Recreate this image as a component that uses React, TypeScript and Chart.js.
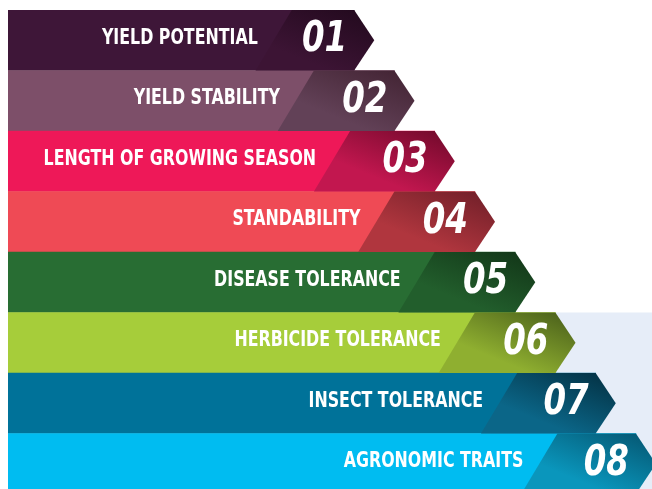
import { useEffect, useRef } from "react";
import { Chart, registerables } from "chart.js";

Chart.register(...registerables);

// ---- data ----
const categories = [
  "YIELD POTENTIAL",
  "YIELD STABILITY",
  "LENGTH OF GROWING SEASON",
  "STANDABILITY",
  "DISEASE TOLERANCE",
  "HERBICIDE TOLERANCE",
  "INSECT TOLERANCE",
  "AGRONOMIC TRAITS",
];
const rankLabels = ["01", "02", "03", "04", "05", "06", "07", "08"];
// where each band ends (before the arrow tip)
const barEnds = [8.6, 9.6, 10.6, 11.6, 12.6, 13.6, 14.6, 15.6];
// where the darker numbered section begins (top edge)
const splitStarts = [7.05, 7.6, 8.5, 9.6, 10.6, 11.6, 12.65, 13.65];

const lightColors = [
  "#3E1638",
  "#7D4F69",
  "#EE1858",
  "#EF4A55",
  "#286D33",
  "#A6CD3A",
  "#007299",
  "#00BCF1",
];
const darkTopColors = [
  "#240A1F",
  "#442535",
  "#760A2D",
  "#74202A",
  "#133819",
  "#4E641C",
  "#043447",
  "#055A76",
];
const darkBottomColors = [
  "#3C1434",
  "#624157",
  "#C2174F",
  "#B0363E",
  "#225E2C",
  "#8FAF30",
  "#0B6688",
  "#0A96BC",
];

const FONT = '"DejaVu Sans Condensed", "DejaVu Sans", sans-serif';

function drawSquashed(ctx: CanvasRenderingContext2D, text: string, x: number, y: number, sx: number) {
  ctx.save();
  ctx.translate(x, y);
  ctx.scale(sx, 1);
  ctx.fillText(text, 0, 0);
  ctx.restore();
}

const shapesPlugin = {
  id: "shapes",
  beforeDatasetsDraw(chart: any) {
    const { ctx, chartArea } = chart;
    const meta = chart.getDatasetMeta(0);
    const xs = chart.scales.x;
    const el = meta.data[5];
    if (!el) return;
    const p = el.getProps(["y", "height"], true);
    const top = p.y - p.height / 2;
    ctx.save();
    ctx.fillStyle = "#E6EDF8";
    const left = xs.getPixelForValue(12);
    ctx.fillRect(left, top, chartArea.right - left + 10, chart.height - top);
    ctx.restore();
  },
  afterDatasetsDraw(chart: any) {
    const { ctx } = chart;
    const meta = chart.getDatasetMeta(0);
    const xs = chart.scales.x;
    const unit = xs.getPixelForValue(1) - xs.getPixelForValue(0);
    const tip = unit * 0.5;
    const slant = unit * 0.9;
    meta.data.forEach((el: any, i: number) => {
      const p = el.getProps(["x", "y", "height"], true);
      const top = p.y - p.height / 2;
      const bottom = p.y + p.height / 2;
      const right = p.x;
      const sx = xs.getPixelForValue(splitStarts[i]);
      ctx.save();
      const g = ctx.createLinearGradient(right, top, right - 25, bottom);
      g.addColorStop(0, darkTopColors[i]);
      g.addColorStop(1, darkBottomColors[i]);
      ctx.fillStyle = g;
      ctx.beginPath();
      ctx.moveTo(sx, top);
      ctx.lineTo(right, top);
      ctx.lineTo(right + tip, p.y);
      ctx.lineTo(right, bottom);
      ctx.lineTo(sx - slant, bottom);
      ctx.closePath();
      ctx.fill();

      ctx.fillStyle = "#FFFFFF";
      ctx.textBaseline = "middle";
      ctx.textAlign = "right";
      ctx.font = `bold 22px ${FONT}`;
      drawSquashed(ctx, categories[i], sx - 34, p.y - 2, 0.8);

      ctx.font = `italic bold 43px ${FONT}`;
      drawSquashed(ctx, rankLabels[i], right - 7, p.y, 0.84);
      ctx.restore();
    });
  },
};

export default function App() {
  const ref = useRef<HTMLCanvasElement | null>(null);
  useEffect(() => {
    if (!ref.current) return;
    const chart = new Chart(ref.current, {
      type: "bar",
      data: {
        labels: categories,
        datasets: [
          {
            data: barEnds,
            backgroundColor: lightColors,
            borderWidth: 0,
            barPercentage: 1,
            categoryPercentage: 1,
          },
        ],
      },
      options: {
        indexAxis: "y",
        responsive: false,
        animation: false,
        layout: { padding: { left: 8, top: 10, right: 0, bottom: 0 } },
        scales: {
          x: { type: "linear", min: 0, max: 16, display: false },
          y: { display: false },
        },
        plugins: {
          legend: { display: false },
          tooltip: { enabled: false },
        },
      },
      plugins: [shapesPlugin],
    } as any);
    return () => chart.destroy();
  }, []);
  return (
    <div style={{ width: 652, height: 489, overflow: "hidden", background: "#fff" }}>
      <style>{`body{margin:0;overflow:hidden}`}</style>
      <canvas ref={ref} width={652} height={494} style={{ display: "block" }} />
    </div>
  );
}
